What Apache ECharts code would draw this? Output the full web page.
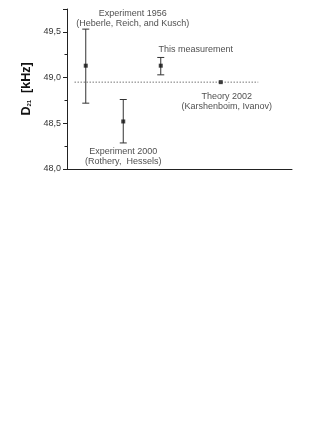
<!DOCTYPE html>
<html><head><meta charset="utf-8">
<script src="https://cdn.jsdelivr.net/npm/echarts@6/dist/echarts.min.js"></script>
<style>html,body{margin:0;padding:0;background:#fff}#c{width:327px;height:423px}</style>
</head><body><div id="c"></div>
<script>
// Data
const names = ['Experiment 1956\n(Heberle, Reich, and Kusch)', 'Experiment 2000\n(Rothery,  Hessels)', 'This measurement', 'Theory 2002\n(Karshenboim, Ivanov)'];
const xPos = [0.5, 1.5, 2.5, 4.1];
const values = [49.13, 48.52, 49.13, 48.95];
const errLow = [48.72, 48.285, 49.03, 48.95];
const errHigh = [49.53, 48.76, 49.22, 48.95];
const theoryLineX = [0.2, 5.1];
const theoryLineY = 48.95;
const yTicks = [48.0, 48.5, 49.0, 49.5];

const labelOffsets = [[49, -45], [2, 37], [37, -14], [8, 21]];
const font = 'Liberation Sans, Arial, sans-serif';

const chart = echarts.init(document.getElementById('c'), null, {renderer: 'canvas'});
const scatterData = values.map((v, i) => ({
  value: [xPos[i], v],
  label: {
    show: true, formatter: names[i], position: labelOffsets[i],
    align: 'center', verticalAlign: 'middle', color: '#222', fontSize: 9, lineHeight: 10, fontFamily: font
  }
}));
const errData = values.map((v, i) => [xPos[i], errLow[i], errHigh[i]]).filter(d => d[1] !== d[2]);

chart.setOption({
  animation: false,
  grid: {left: 67, top: 9, right: 35, bottom: 254},
  xAxis: {
    type: 'value', min: 0, max: 6,
    axisLine: {show: true, onZero: false, lineStyle: {color: '#222', width: 1}},
    axisTick: {show: false}, axisLabel: {show: false}, splitLine: {show: false}
  },
  yAxis: {
    type: 'value', min: 48, max: 49.75, interval: 0.5,
    name: '{b|D}{s|21}{b|  [kHz]}', nameLocation: 'middle', nameRotate: 90, nameGap: 34,
    nameTextStyle: {rich: {
      b: {fontSize: 12.5, fontWeight: 'bold', fontFamily: font, color: '#111'},
      s: {fontSize: 6, fontWeight: 'bold', fontFamily: font, color: '#111', verticalAlign: 'bottom', padding: [6, 0, 0, 0]}
    }},
    axisLine: {show: true, lineStyle: {color: '#222', width: 1}},
    axisTick: {show: true, inside: false, length: 4, lineStyle: {color: '#222'}},
    minorTick: {show: true, splitNumber: 2, length: 2.5, lineStyle: {color: '#222'}},
    axisLabel: {
      color: '#333', fontSize: 9, fontFamily: font, margin: 6, showMaxLabel: false,
      formatter: v => yTicks.some(t => Math.abs(t - v) < 1e-6) ? v.toFixed(1).replace('.', ',') : ''
    },
    splitLine: {show: false}
  },
  series: [
    {
      type: 'line', data: theoryLineX.map(x => [x, theoryLineY]), symbol: 'none',
      lineStyle: {type: [1.5, 1.5], color: '#777', width: 1}, z: 1, silent: true
    },
    {
      type: 'custom', data: errData, z: 2,
      renderItem: function (params, api) {
        const x = api.value(0);
        const lo = api.coord([x, api.value(1)]);
        const hi = api.coord([x, api.value(2)]);
        const cw = 3.5;
        const st = {stroke: '#333', lineWidth: 1};
        return {type: 'group', children: [
          {type: 'line', shape: {x1: lo[0], y1: lo[1], x2: hi[0], y2: hi[1]}, style: st},
          {type: 'line', shape: {x1: lo[0] - cw, y1: lo[1], x2: lo[0] + cw, y2: lo[1]}, style: st},
          {type: 'line', shape: {x1: hi[0] - cw, y1: hi[1], x2: hi[0] + cw, y2: hi[1]}, style: st}
        ]};
      }
    },
    {
      type: 'scatter', data: scatterData, symbol: 'rect', symbolSize: 4,
      itemStyle: {color: '#111'}, z: 3
    }
  ]
});
</script></body></html>
